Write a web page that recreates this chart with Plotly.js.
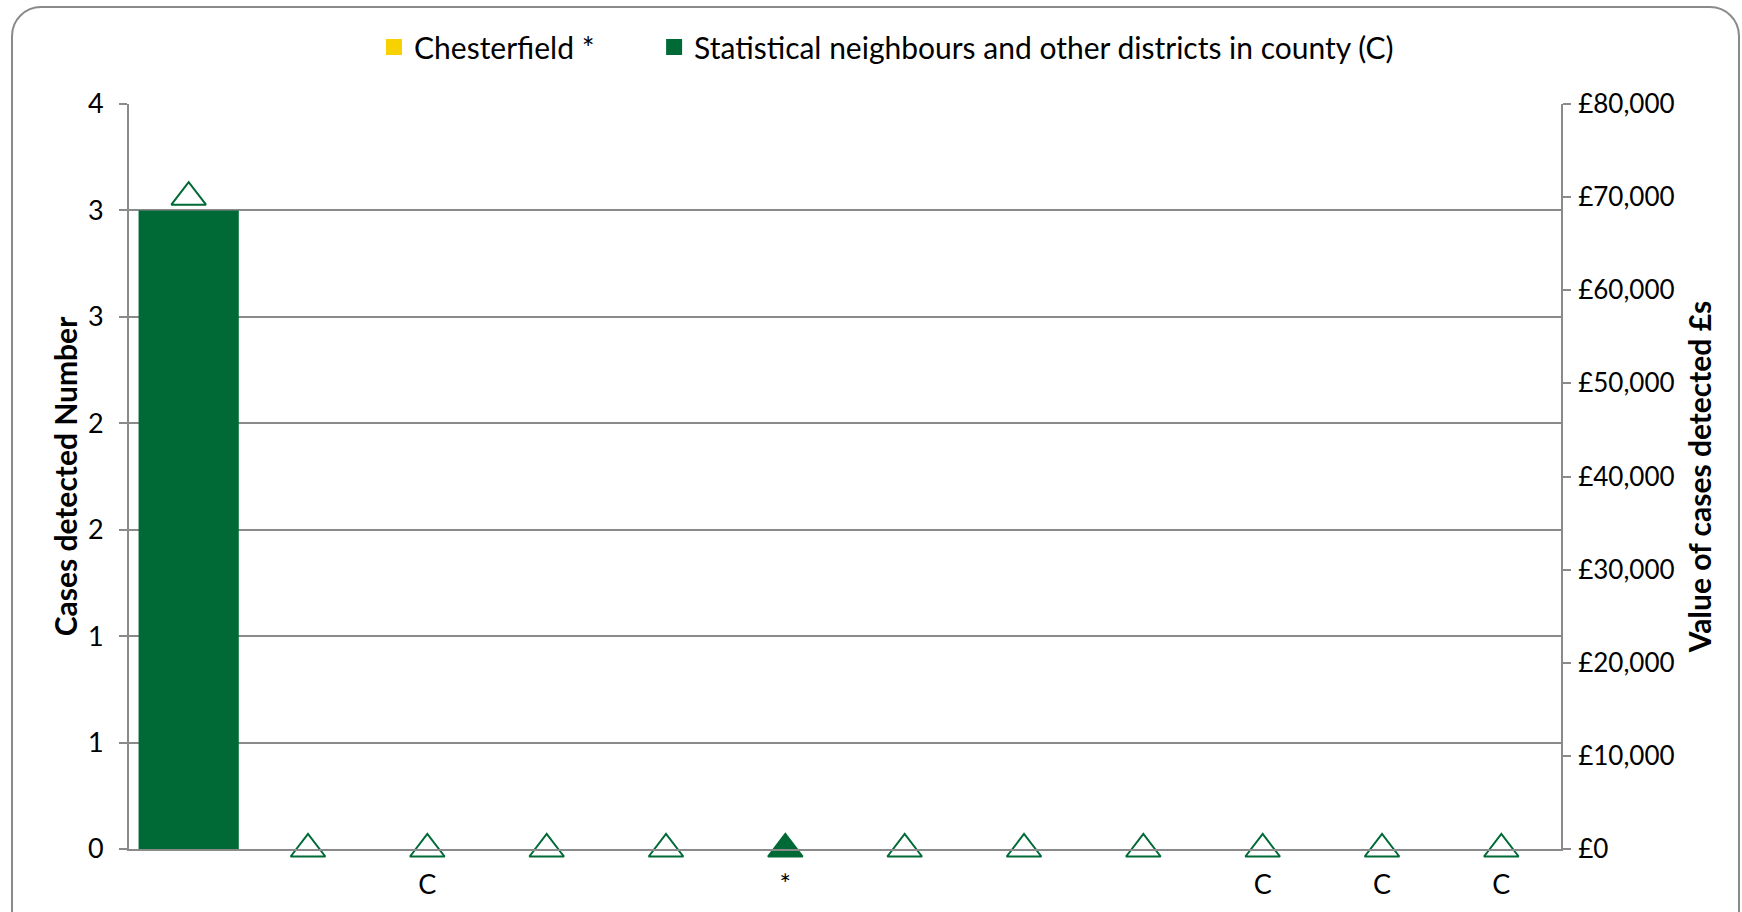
<!DOCTYPE html>
<html>
<head>
<meta charset="utf-8">
<script src="https://cdn.plot.ly/plotly-3.0.1.min.js"></script>
<style>
  html, body { margin: 0; padding: 0; background: #ffffff; overflow: hidden; }
  #wrap { position: relative; width: 1742px; height: 912px; }
  #chart { position: absolute; left: 0; top: 0; width: 1742px; height: 912px; }
  #frame { position: absolute; left: 11px; top: 6px; width: 1729px; height: 940px;
           border: 2px solid #8a8a8a; border-radius: 30px; pointer-events: none; box-sizing: border-box; }
</style>
</head>
<body>
<div id="wrap">
  <div id="chart"></div>
  <div id="frame"></div>
</div>
<script>
// ---- data ----
const categoryLabels = ["", "", "C", "", "", "*", "", "", "", "C", "C", "C"];
const neighbourCases = [3, 0, 0, 0, 0, null, 0, 0, 0, 0, 0, 0];
const chesterfieldCases = [null, null, null, null, null, 0, null, null, null, null, null, null];
const neighbourValues = [70000, 0, 0, 0, 0, null, 0, 0, 0, 0, 0, 0];
const chesterfieldValues = [null, null, null, null, null, 0, null, null, null, null, null, null];
const leftTickValues = [0, 0.5, 1, 1.5, 2, 2.5, 3, 3.5];
const leftTickLabels = ["0", "1", "1", "2", "2", "3", "3", "4"];
const seriesNames = ["Chesterfield *", "Statistical neighbours and other districts in county (C)"];

const positions = categoryLabels.map((_, i) => i);

const GREEN = "#006a36";
const YELLOW = "#f7d200";
const GREY = "#8a8a8a";
const FONT = "Lato, 'Open Sans', sans-serif";

const traces = [
  {
    type: "bar", name: seriesNames[0], x: positions, y: chesterfieldCases,
    marker: { color: YELLOW }, hoverinfo: "skip", showlegend: false
  },
  {
    type: "bar", name: seriesNames[1], x: positions, y: neighbourCases,
    marker: { color: GREEN }, hoverinfo: "skip", showlegend: false
  },
  {
    type: "scatter", mode: "markers", x: positions, y: neighbourValues, yaxis: "y2",
    showlegend: false, cliponaxis: false, hoverinfo: "skip",
    marker: { symbol: "triangle-up", size: 30, color: "#ffffff", line: { color: GREEN, width: 2 } }
  },
  {
    type: "scatter", mode: "markers", x: positions, y: chesterfieldValues, yaxis: "y2",
    showlegend: false, cliponaxis: false, hoverinfo: "skip",
    marker: { symbol: "triangle-up", size: 30, color: GREEN, line: { color: GREEN, width: 2 } }
  },
  // legend keys (no plotted points) so the key squares match the reference size
  {
    type: "scatter", mode: "markers", name: seriesNames[0], x: [null], y: [null],
    legend: "legend", hoverinfo: "skip",
    marker: { symbol: "square", size: 16, color: YELLOW }
  },
  {
    type: "scatter", mode: "markers", name: seriesNames[1], x: [null], y: [null],
    legend: "legend2", hoverinfo: "skip",
    marker: { symbol: "square", size: 16, color: GREEN }
  }
];

const legendCommon = {
  orientation: "h", xanchor: "left", y: 1.0765, yanchor: "middle",
  font: { family: FONT, size: 30, color: "#000000" }, bgcolor: "rgba(0,0,0,0)",
  itemsizing: "trace"
};

const layout = {
  width: 1742, height: 912,
  margin: { l: 129, r: 181, t: 104, b: 63, pad: 0 },
  paper_bgcolor: "#ffffff", plot_bgcolor: "#ffffff",
  font: { family: FONT, size: 27, color: "#000000" },
  barmode: "overlay", bargap: 0.16,
  showlegend: true,
  legend: Object.assign({}, legendCommon, { x: 0.1711 }),
  legend2: Object.assign({}, legendCommon, { x: 0.3667 }),
  xaxis: {
    range: [-0.5, 11.5], tickmode: "array", tickvals: positions, ticktext: categoryLabels,
    showgrid: false, zeroline: false, showline: true, linecolor: GREY, linewidth: 2,
    ticks: "", ticklabelstandoff: 11, tickfont: { family: FONT, size: 27 }, fixedrange: true
  },
  yaxis: {
    range: [0, 3.5], tickmode: "array", tickvals: leftTickValues, ticktext: leftTickLabels,
    showgrid: true, gridcolor: GREY, gridwidth: 2, zeroline: false,
    showline: true, linecolor: GREY, linewidth: 2,
    ticks: "outside", ticklen: 8, tickcolor: GREY, tickwidth: 2,
    tickfont: { family: FONT, size: 27 }, ticklabelstandoff: 10,
    title: { text: "Cases detected Number", font: { family: FONT, size: 30, weight: "bold" }, standoff: 1 }
  },
  yaxis2: {
    overlaying: "y", side: "right", range: [0, 80000], dtick: 10000, tick0: 0,
    tickprefix: "£", tickformat: ",d", showgrid: false, zeroline: false,
    showline: true, linecolor: GREY, linewidth: 2,
    ticks: "outside", ticklen: 8, tickcolor: GREY, tickwidth: 2,
    tickfont: { family: FONT, size: 26 }, ticklabelstandoff: 2,
    title: { text: "Value of cases detected £s", font: { family: FONT, size: 30, weight: "bold" }, standoff: 16 }
  }
};

Plotly.newPlot("chart", traces, layout, { staticPlot: true, displayModeBar: false });
</script>
</body>
</html>
